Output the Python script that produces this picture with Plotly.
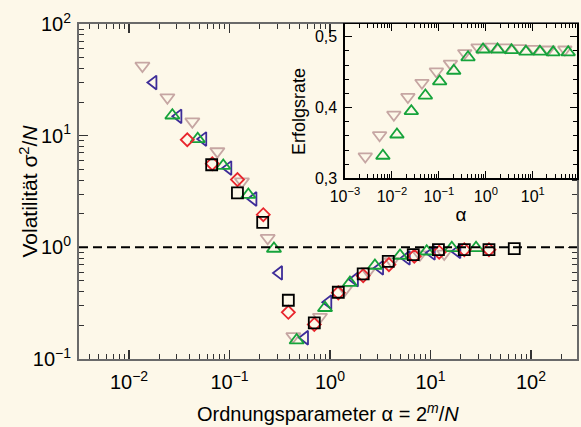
import plotly.graph_objects as go

# --- Hauptbild: Volatilitaet sigma^2/N gegen alpha = 2^m/N ---
# grau, Dreieck nach unten
alpha_grau = [0.0136, 0.0241, 0.0427, 0.0757, 0.133, 0.240, 0.432, 0.795, 1.41, 2.40, 4.11, 7.86, 13.7]
vol_grau = [42.2, 22.0, 13.4, 7.23, 3.89, 1.21, 0.160, 0.238, 0.419, 0.611, 0.750, 0.861, 0.877]

# violett, Dreieck nach links
alpha_violett = [0.0175, 0.0310, 0.0548, 0.0973, 0.173, 0.311, 0.564, 0.962, 1.77, 3.15, 5.80, 10.3, 18.5]
vol_violett = [29.9, 14.9, 9.33, 5.13, 2.71, 0.590, 0.155, 0.323, 0.515, 0.655, 0.804, 0.891, 0.920]

# gruen, Dreieck nach oben
alpha_gruen = [0.0270, 0.0483, 0.0867, 0.154, 0.277, 0.466, 0.892, 1.58, 2.80, 4.98, 9.17, 16.3, 28.4]
vol_gruen = [15.2, 9.33, 5.38, 2.96, 0.974, 0.147, 0.287, 0.481, 0.686, 0.843, 0.920, 0.988, 0.988]

# rot, Raute
alpha_rot = [0.0380, 0.0674, 0.120, 0.217, 0.385, 0.698, 1.21, 2.14, 3.86, 6.90, 12.2, 21.7, 38.2]
vol_rot = [9.19, 5.61, 4.04, 1.96, 0.262, 0.204, 0.391, 0.557, 0.700, 0.832, 0.904, 0.953, 0.953]

# schwarz, Quadrat
alpha_schwarz = [0.0665, 0.120, 0.214, 0.385, 0.698, 1.21, 2.14, 3.80, 6.74, 12.0, 21.7, 38.2, 68.2]
vol_schwarz = [5.49, 3.07, 1.67, 0.336, 0.211, 0.396, 0.578, 0.750, 0.861, 0.954, 0.954, 0.954, 0.974]

# --- Einsatz: Erfolgsrate gegen alpha ---
alpha_ins_grau = [0.00271, 0.00547, 0.0110, 0.0219, 0.0436, 0.0885, 0.176, 0.355, 0.682, 1.31, 2.62, 5.28, 10.5, 21.2, 48.0]
rate_ins_grau = [0.331, 0.361, 0.390, 0.415, 0.435, 0.451, 0.462, 0.477, 0.485, 0.486, 0.485, 0.484, 0.483, 0.482, 0.482]

alpha_ins_gruen = [0.00643, 0.0128, 0.0259, 0.0516, 0.104, 0.207, 0.417, 0.871, 1.77, 3.51, 7.10, 14.1, 27.1, 56.6]
rate_ins_gruen = [0.332, 0.362, 0.395, 0.417, 0.437, 0.452, 0.471, 0.482, 0.482, 0.481, 0.479, 0.479, 0.478, 0.478]

# Achsenbeschriftungen
x_ticks = [0.01, 0.1, 1, 10, 100]
x_labels = ['10<sup>−2</sup>', '10<sup>−1</sup>', '10<sup>0</sup>', '10<sup>1</sup>', '10<sup>2</sup>']
y_ticks = [0.1, 1, 10, 100]
y_labels = ['10<sup>−1</sup>', '10<sup>0</sup>', '10<sup>1</sup>', '10<sup>2</sup>']
x2_ticks = [0.001, 0.01, 0.1, 1, 10]
x2_labels = ['10<sup>−3</sup>', '10<sup>−2</sup>', '10<sup>−1</sup>', '10<sup>0</sup>', '10<sup>1</sup>']
y2_ticks = [0.3, 0.4, 0.5]

bg = '#fdf8e9'
font = 'Liberation Sans, Arial, sans-serif'

grau = '#c6a6a3'
violett = '#3d2c98'
gruen = '#16a33b'
rot = '#e8262d'
schwarz = '#000000'

fig = go.Figure()

serien = [
    (alpha_grau, vol_grau, 'triangle-down-open', grau, 12.5),
    (alpha_violett, vol_violett, 'triangle-left-open', violett, 12),
    (alpha_gruen, vol_gruen, 'triangle-up-open', gruen, 12.5),
    (alpha_rot, vol_rot, 'diamond-open', rot, 10),
    (alpha_schwarz, vol_schwarz, 'square-open', schwarz, 11),
]
for xs, ys, sym, col, sz in serien:
    fig.add_trace(go.Scatter(
        x=xs, y=ys, mode='markers', xaxis='x', yaxis='y',
        marker=dict(symbol=sym, size=sz, color=col, line=dict(color=col, width=1.8)),
        showlegend=False, hoverinfo='skip'
    ))

for xs, ys, sym, col in [(alpha_ins_grau, rate_ins_grau, 'triangle-down-open', grau),
                         (alpha_ins_gruen, rate_ins_gruen, 'triangle-up-open', gruen)]:
    fig.add_trace(go.Scatter(
        x=xs, y=ys, mode='markers', xaxis='x2', yaxis='y2',
        marker=dict(symbol=sym, size=12, color=col, line=dict(color=col, width=1.8)),
        showlegend=False, hoverinfo='skip'
    ))

# gestrichelte Linie bei sigma^2/N = 1
fig.add_shape(type='line', xref='x domain', yref='y', x0=0, x1=1, y0=1, y1=1,
              line=dict(color='black', width=2, dash='9px,5px'))

achse_haupt = dict(
    type='log', showgrid=False, zeroline=False,
    showline=True, linecolor='#6a6a6a', linewidth=2, mirror='allticks',
    ticks='inside', ticklen=9, tickwidth=1.2, tickcolor='#333333',
    minor=dict(ticks='inside', ticklen=5, tickwidth=1, tickcolor='#333333', dtick='D1'),
    tickmode='array', automargin=False,
    tickfont=dict(family=font, size=20, color='black'),
)

achse_ins = dict(
    showgrid=False, zeroline=False,
    showline=True, linecolor='black', linewidth=1.5, mirror='allticks',
    ticks='inside', ticklen=7, tickwidth=1, tickcolor='black',
    tickmode='array', ticklabelstandoff=3, automargin=False,
    tickfont=dict(family=font, size=16, color='black'),
)

fig.update_layout(
    width=581, height=427,
    paper_bgcolor=bg, plot_bgcolor=bg,
    margin=dict(l=79, r=4, t=24, b=68),
    separators=',.',
    font=dict(family=font, color='black'),
    hovermode=False,
    xaxis=dict(achse_haupt, range=[-2.4975, 2.458], domain=[0, 1], anchor='y',
               tickvals=x_ticks, ticktext=x_labels, ticklabelstandoff=4),
    yaxis=dict(achse_haupt, range=[-1, 2], domain=[0, 1], anchor='x',
               tickvals=y_ticks, ticktext=y_labels, ticklabelstandoff=2),
    xaxis2=dict(achse_ins, type='log', range=[-3, 1.94], domain=[0.534, 1], anchor='y2',
                minor=dict(ticks='inside', ticklen=4, tickwidth=1, tickcolor='black', dtick='D1'),
                tickvals=x2_ticks, ticktext=x2_labels,
                title=dict(text='α', font=dict(family=font, size=19), standoff=3)),
    yaxis2=dict(achse_ins, range=[0.3, 0.518], domain=[0.539, 1], anchor='x2',
                minor=dict(ticks='inside', ticklen=4, tickwidth=1, tickcolor='black', dtick=0.02),
                tickvals=y2_ticks, tickformat='.1f'),
)

# Achsentitel als freie Beschriftung
fig.add_annotation(text='Ordnungsparameter α = 2<sup><i>m</i></sup>/<i>N</i>',
                   xref='paper', yref='paper', x=0.5, y=-0.161,
                   xanchor='center', yanchor='middle', showarrow=False,
                   font=dict(family=font, size=20, color='black'))
fig.add_annotation(text='Volatilität σ<sup>2</sup>/<i>N</i>',
                   xref='paper', yref='paper', x=-0.1024, y=0.5, textangle=-90,
                   xanchor='center', yanchor='middle', showarrow=False,
                   font=dict(family=font, size=21, color='black'))
fig.add_annotation(text='Erfolgsrate',
                   xref='paper', yref='paper', x=0.4418, y=0.737, textangle=-90,
                   xanchor='center', yanchor='middle', showarrow=False,
                   font=dict(family=font, size=18, color='black'))

fig.write_html('out.html', config={'displayModeBar': False, 'staticPlot': True},
               post_script="document.body.style.margin='0';document.body.style.background='%s';" % bg)
